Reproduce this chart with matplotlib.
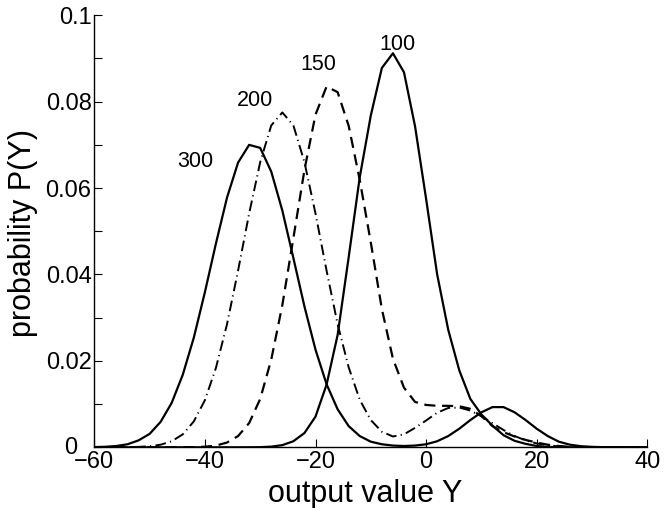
import matplotlib
matplotlib.use('Agg')
import matplotlib.pyplot as plt
from matplotlib.transforms import ScaledTranslation

plt.rcParams['font.family'] = ['Liberation Sans', 'DejaVu Sans']

# output value Y, sampled every 2 units
y_values = [-60, -58, -56, -54, -52, -50, -48, -46, -44, -42,
            -40, -38, -36, -34, -32, -30, -28, -26, -24, -22,
            -20, -18, -16, -14, -12, -10, -8, -6, -4, -2,
            0, 2, 4, 6, 8, 10, 12, 14, 16, 18,
            20, 22, 24, 26, 28, 30, 32, 34, 36, 38, 40]

# probability P(Y)
p_100 = [0, 0, 0, 0, 0, 0, 0, 0, 0, 0,
         0, 0, 0, 0, 0.00001, 0.00003, 0.00015, 0.0005, 0.0014, 0.0033,
         0.0071, 0.0145, 0.0260, 0.0440, 0.0625, 0.0768, 0.0878, 0.0912, 0.0868, 0.0743,
         0.0575, 0.0400, 0.0272, 0.0178, 0.0112, 0.0076, 0.0050, 0.0028, 0.0015, 0.0008,
         0.0003, 0.0001, 0.00003, 0, 0, 0, 0, 0, 0, 0, 0]

p_150 = [0, 0, 0, 0, 0, 0, 0, 0, 0.00001, 0.00004,
         0.00013, 0.0004, 0.0011, 0.0026, 0.0056, 0.0112, 0.0203, 0.0329, 0.0484, 0.0642,
         0.0770, 0.0835, 0.0822, 0.0744, 0.0619, 0.0474, 0.0320, 0.0205, 0.0138, 0.0105,
         0.0098, 0.0096, 0.0096, 0.0095, 0.0089, 0.0072, 0.0049, 0.0035, 0.0025, 0.0017,
         0.0011, 0.0006, 0.0003, 0.0001, 0.00005, 0, 0, 0, 0, 0, 0]

p_200 = [0, 0, 0.00001, 0.00003, 0.0001, 0.00024, 0.0006, 0.0014, 0.0030, 0.0060,
         0.0109, 0.0184, 0.0285, 0.0409, 0.0541, 0.0660, 0.0745, 0.0775, 0.0745, 0.0660,
         0.0541, 0.0409, 0.0285, 0.0185, 0.0110, 0.0063, 0.0036, 0.0025, 0.0030, 0.0045,
         0.0062, 0.0080, 0.0091, 0.0092, 0.0085, 0.0072, 0.0056, 0.0040, 0.0026, 0.0016,
         0.0009, 0.00045, 0.0002, 0.0001, 0.00004, 0.00001, 0, 0, 0, 0, 0]

p_300 = [0.00005, 0.00012, 0.0003, 0.0007, 0.0016, 0.0031, 0.0059, 0.0103, 0.0168, 0.0254,
         0.0359, 0.0472, 0.0578, 0.0659, 0.0700, 0.0693, 0.0638, 0.0548, 0.0438, 0.0326,
         0.0226, 0.0146, 0.0088, 0.0049, 0.0026, 0.0013, 0.0007, 0.0004, 0.0003, 0.0004,
         0.0007, 0.0014, 0.0026, 0.0043, 0.0063, 0.0081, 0.0093, 0.0093, 0.0081, 0.0063,
         0.0043, 0.0026, 0.0013, 0.0006, 0.00025, 0.0001, 0.00003, 0.00001, 0, 0, 0]

curve_names = ['100', '150', '200', '300']
label_x = [-5.1, -19.5, -30.9, -41.8]
label_y = [0.0933, 0.0886, 0.0802, 0.0662]

y_ticks = [0, 0.02, 0.04, 0.06, 0.08, 0.1]
y_tick_labels = ['0', '0.02', '0.04', '0.06', '0.08', '0.1']
y_minor = [0.01, 0.03, 0.05, 0.07, 0.09]
x_ticks = [-60, -40, -20, 0, 20, 40]

fig = plt.figure(figsize=(6.65, 5.08), dpi=100)
ax = fig.add_axes([0.1418, 0.1195, 0.8316, 0.8505])

lw = 1.6
ax.plot(y_values, p_100, color='black', lw=lw)
ax.plot(y_values, p_150, color='black', lw=lw, linestyle=(0, (5, 3)))
ax.plot(y_values, p_200, color='black', lw=1.4, linestyle=(0, (5.5, 2.2, 0.6, 2.2)))
ax.plot(y_values, p_300, color='black', lw=lw)

for name, tx, ty in zip(curve_names, label_x, label_y):
    ax.text(tx, ty, name, ha='center', va='center', fontsize=15.5)

ax.set_xlim(-60, 40)
ax.set_ylim(0, 0.1)
ax.set_xticks(x_ticks)
ax.set_yticks(y_ticks)
ax.set_yticklabels(y_tick_labels)
ax.set_yticks(y_minor, minor=True)

for side in ['top', 'right']:
    ax.spines[side].set_visible(False)
for side in ['left', 'bottom']:
    ax.spines[side].set_linewidth(1.0)

ax.tick_params(which='both', direction='in', length=6, width=0.8)
ax.tick_params(which='major', labelsize=17)
ax.tick_params(axis='x', pad=3)
ax.tick_params(axis='y', pad=2)

# the "0" on the y axis sits left of the "-60" below the corner
zero_label = ax.get_yticklabels()[0]
zero_label.set_transform(zero_label.get_transform() +
                         ScaledTranslation(-0.14, 0.02, fig.dpi_scale_trans))

ax.set_xlabel('output value Y', fontsize=22)
ax.set_ylabel('probability P(Y)', fontsize=22)
ax.xaxis.label.set_va('center')
ax.yaxis.label.set_va('center')
ax.xaxis.set_label_coords(0.49, -0.107)
ax.yaxis.set_label_coords(-0.129, 0.496)

fig.savefig('out.png', dpi=100)
